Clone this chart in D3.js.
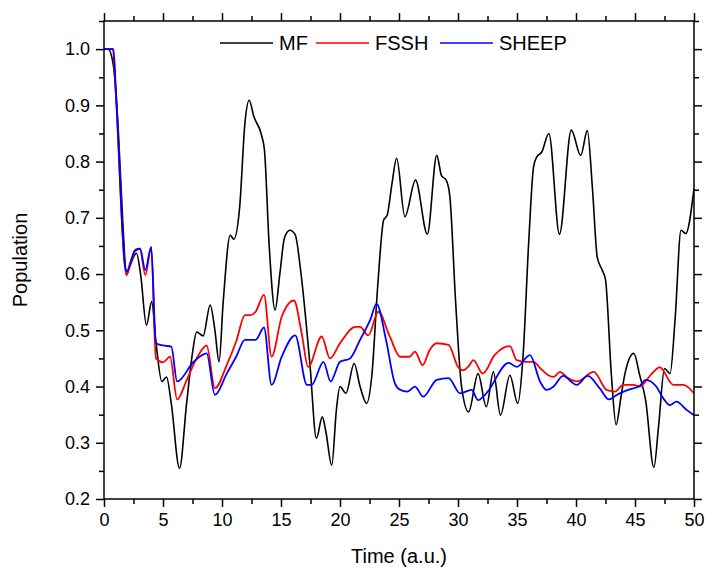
<!DOCTYPE html>
<html>
<head>
<meta charset="utf-8">
<script src="https://cdn.jsdelivr.net/npm/d3@7"></script>
<style>
body{margin:0;background:#fff;}
text{font-family:Arial,"Liberation Sans",sans-serif;}
</style>
</head>
<body>
<svg id="chart" width="705" height="570"></svg>
<script>
// series: [time, population]
var mfData=[[0,1.0],[0.35,1.0],[0.8,0.97],[1.2,0.86],[1.6,0.69],[1.9,0.60],[2.2,0.615],[2.75,0.637],[3.1,0.6],[3.6,0.509],[4.04,0.551],[4.4,0.48],[4.9,0.409],[5.3,0.417],[5.7,0.37],[6.4,0.2545],[7.0,0.37],[7.5,0.46],[7.85,0.497],[8.4,0.49],[9.0,0.545],[9.4,0.5],[9.75,0.444],[10.1,0.55],[10.7,0.669],[11.0,0.662],[11.5,0.72],[11.95,0.87],[12.3,0.909],[12.7,0.88],[13.35,0.847],[13.6,0.82],[14.0,0.65],[14.5,0.536],[14.9,0.6],[15.3,0.665],[15.75,0.678],[16.2,0.67],[16.7,0.6],[17.45,0.44],[18.0,0.308],[18.5,0.346],[18.8,0.32],[19.3,0.26],[19.7,0.36],[20.0,0.40],[20.5,0.388],[21.2,0.441],[21.7,0.40],[22.25,0.37],[22.7,0.42],[23.2,0.58],[23.7,0.696],[24.0,0.705],[24.4,0.76],[24.8,0.806],[25.5,0.702],[26.4,0.767],[27.4,0.671],[28.2,0.811],[28.6,0.775],[29.0,0.767],[29.3,0.74],[29.8,0.55],[30.3,0.40],[30.9,0.355],[31.7,0.423],[32.4,0.364],[33.0,0.426],[33.6,0.349],[34.4,0.42],[35.06,0.37],[35.5,0.45],[36.0,0.66],[36.4,0.79],[36.67,0.808],[37.1,0.817],[37.7,0.85],[38.6,0.671],[39.6,0.856],[40.4,0.811],[40.96,0.855],[41.4,0.75],[41.8,0.63],[42.2,0.608],[42.5,0.59],[43.0,0.42],[43.4,0.332],[43.8,0.38],[44.15,0.423],[44.9,0.459],[45.4,0.42],[45.9,0.376],[46.6,0.256],[47.0,0.33],[47.5,0.432],[47.97,0.423],[48.4,0.52],[48.9,0.678],[49.3,0.672],[50,0.752]];

var fsshData=[[0,1],[0.75,1],[1.0,0.92],[1.9,0.598],[2.2,0.615],[2.6,0.64],[3.05,0.645],[3.5,0.598],[4.0,0.648],[4.4,0.45],[5.0,0.443],[5.6,0.453],[6.2,0.377],[7.0,0.411],[7.85,0.45],[8.7,0.473],[9.4,0.397],[10.4,0.438],[11.2,0.48],[11.95,0.527],[12.4,0.527],[12.85,0.533],[13.56,0.563],[14.2,0.453],[15.06,0.524],[16.1,0.553],[16.75,0.495],[17.3,0.435],[18.45,0.489],[19.15,0.45],[20.0,0.477],[21.3,0.506],[21.7,0.506],[22.4,0.491],[23.25,0.533],[24.2,0.49],[25.1,0.453],[25.9,0.453],[26.35,0.462],[27.0,0.438],[27.6,0.465],[28.2,0.477],[29.2,0.474],[30.0,0.435],[30.4,0.429],[30.9,0.436],[31.3,0.447],[32.1,0.423],[33.1,0.456],[34.4,0.472],[34.97,0.447],[35.8,0.444],[36.4,0.444],[37.0,0.432],[37.65,0.42],[38.1,0.417],[38.65,0.426],[39.2,0.417],[40.1,0.409],[41.5,0.426],[42.6,0.394],[43.3,0.391],[44.0,0.403],[44.85,0.403],[45.4,0.40],[46.3,0.42],[47.1,0.434],[48.25,0.403],[49.1,0.403],[50,0.388]];

var sheepData=[[0,1],[0.8,1],[1.0,0.93],[1.8,0.613],[1.95,0.605],[2.3,0.625],[2.65,0.643],[3.05,0.645],[3.5,0.607],[4.0,0.648],[4.4,0.477],[5.0,0.473],[5.7,0.471],[6.2,0.409],[7.6,0.444],[8.7,0.459],[9.4,0.385],[10.4,0.423],[11.2,0.453],[11.95,0.483],[12.85,0.483],[13.56,0.505],[14.2,0.403],[15.06,0.453],[16.2,0.491],[17.2,0.403],[17.6,0.403],[18.6,0.444],[19.2,0.409],[20.0,0.444],[20.85,0.45],[21.7,0.483],[22.55,0.518],[23.1,0.547],[23.9,0.483],[24.66,0.405],[25.1,0.394],[25.7,0.391],[26.35,0.40],[27.05,0.382],[28.2,0.412],[29.2,0.415],[30.17,0.388],[31.15,0.394],[31.7,0.376],[32.4,0.388],[34.3,0.442],[34.97,0.435],[36.1,0.456],[36.95,0.409],[37.5,0.394],[38.1,0.40],[38.9,0.419],[40.06,0.403],[41.0,0.419],[42.0,0.397],[42.8,0.377],[43.45,0.385],[44.4,0.394],[45.4,0.401],[45.9,0.412],[46.8,0.40],[47.4,0.379],[47.97,0.367],[48.5,0.373],[49.4,0.358],[50,0.349]];

var seriesNames=["MF","FSSH","SHEEP"];
var seriesColors=["#000000","#ff0000","#0000ff"];
var xTicks=[0,5,10,15,20,25,30,35,40,45,50];
var xMinor=[2.5,7.5,12.5,17.5,22.5,27.5,32.5,37.5,42.5,47.5];
var yTicks=[0.2,0.3,0.4,0.5,0.6,0.7,0.8,0.9,1.0];
var yMinor=[0.25,0.35,0.45,0.55,0.65,0.75,0.85,0.95,1.05];

var margin={top:21,right:11,bottom:71,left:104};
var width=705-margin.left-margin.right,
    height=570-margin.top-margin.bottom;

var svg=d3.select("#chart");
var g=svg.append("g").attr("transform","translate("+margin.left+","+margin.top+")");

var x=d3.scaleLinear().domain([0,50]).range([0,width]);
var y=d3.scaleLinear().domain([0.2,1.05]).range([height,0]);

g.append("clipPath").attr("id","clip")
    .append("rect").attr("width",width).attr("height",height);

// axes: major + minor, all four sides
function styleAxis(sel){
    sel.selectAll("path").remove();
    sel.selectAll("line").attr("stroke","#000").attr("stroke-width",1.5);
    sel.selectAll("text").attr("font-size",18).attr("fill","#000");
}
g.append("g").attr("transform","translate(0,"+height+")")
    .call(d3.axisBottom(x).tickValues(xTicks).tickSize(8).tickPadding(6).tickFormat(d3.format("d")))
    .call(styleAxis);
g.append("g").attr("transform","translate(0,"+height+")")
    .call(d3.axisBottom(x).tickValues(xMinor).tickSize(5).tickFormat(""))
    .call(styleAxis);
g.append("g")
    .call(d3.axisTop(x).tickValues(xTicks).tickSize(8).tickFormat(""))
    .call(styleAxis);
g.append("g")
    .call(d3.axisTop(x).tickValues(xMinor).tickSize(5).tickFormat(""))
    .call(styleAxis);
g.append("g")
    .call(d3.axisLeft(y).tickValues(yTicks).tickSize(8).tickPadding(6).tickFormat(d3.format(".1f")))
    .call(styleAxis);
g.append("g")
    .call(d3.axisLeft(y).tickValues(yMinor).tickSize(5).tickFormat(""))
    .call(styleAxis);
g.append("g").attr("transform","translate("+width+",0)")
    .call(d3.axisRight(y).tickValues(yTicks).tickSize(8).tickFormat(""))
    .call(styleAxis);
g.append("g").attr("transform","translate("+width+",0)")
    .call(d3.axisRight(y).tickValues(yMinor).tickSize(5).tickFormat(""))
    .call(styleAxis);

// lines
var line=d3.line()
    .x(function(d){ return x(d[0]); })
    .y(function(d){ return y(d[1]); })
    .curve(d3.curveMonotoneX);

var plot=g.append("g").attr("clip-path","url(#clip)");
plot.append("path").datum(mfData)
    .attr("d",line).attr("fill","none")
    .attr("stroke",seriesColors[0]).attr("stroke-width",1.6);
plot.append("path").datum(fsshData)
    .attr("d",line).attr("fill","none")
    .attr("stroke",seriesColors[1]).attr("stroke-width",1.8).attr("stroke-linejoin","round");
plot.append("path").datum(sheepData)
    .attr("d",line).attr("fill","none")
    .attr("stroke",seriesColors[2]).attr("stroke-width",1.8).attr("stroke-linejoin","round");

// frame
g.append("rect").attr("width",width).attr("height",height)
    .attr("fill","none").attr("stroke","#000").attr("stroke-width",1.5);

// legend
var legendX=[116,212,336];
var leg=g.append("g").attr("transform","translate(0,22)");
seriesNames.forEach(function(name,i){
    leg.append("line")
        .attr("x1",legendX[i]).attr("x2",legendX[i]+53)
        .attr("y1",0).attr("y2",0)
        .attr("stroke",seriesColors[i]).attr("stroke-width",1.6);
    leg.append("text")
        .attr("x",legendX[i]+59).attr("y",7)
        .attr("font-size",20).text(name);
});

// axis titles
svg.append("text")
    .attr("x",margin.left+width/2).attr("y",563)
    .attr("text-anchor","middle").attr("font-size",20)
    .text("Time (a.u.)");
svg.append("text")
    .attr("transform","translate(27,"+(margin.top+height/2)+") rotate(-90)")
    .attr("text-anchor","middle").attr("font-size",20)
    .text("Population");
</script>
</body>
</html>
